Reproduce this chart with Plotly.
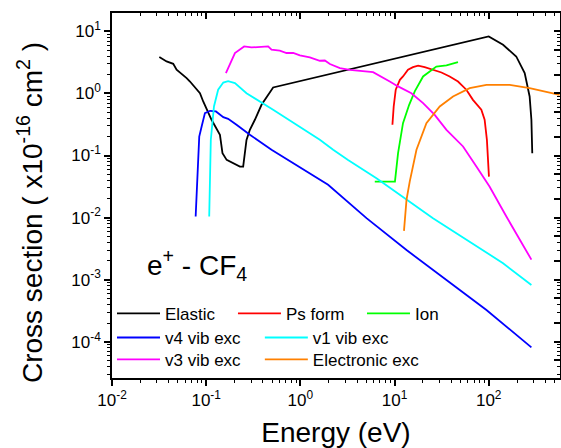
import plotly.graph_objects as go

# ---------------- data ----------------
elastic_E = [0.0318, 0.038, 0.0447, 0.0485, 0.062, 0.0673, 0.0859, 0.093, 0.114, 0.14, 0.149,
             0.165, 0.228, 0.247, 0.268, 0.291, 0.329, 0.387, 0.514, 100, 142, 196, 241, 272, 284, 290]
elastic_S = [3.86, 3.28, 3.01, 2.41, 1.77, 1.56, 1.01, 0.743, 0.377, 0.216, 0.109,
             0.085, 0.0665, 0.0665, 0.179, 0.26, 0.377, 0.657, 1.25, 8.3, 6.1, 3.95, 2.13, 0.896, 0.377, 0.109]

ps_E = [9.5, 9.8, 10.3, 11.4, 12.3, 13.9, 15.7, 17.8, 20.9, 25.6, 31.5, 38.5, 47.2, 57.9, 68, 83.5, 90.5, 95.7, 100.6]
ps_S = [0.313, 0.617, 1.15, 1.66, 1.88, 2.41, 2.66, 2.8, 2.66, 2.41, 2.18, 1.88, 1.56, 1.15, 0.79, 0.546, 0.377, 0.179, 0.0458]

ion_E = [6.17, 10.1, 10.9, 12.3, 14.3, 16.4, 20.1, 23.7, 27.8, 35.6, 47.2]
ion_S = [0.038, 0.038, 0.109, 0.333, 0.657, 1.08, 1.88, 2.26, 2.72, 2.83, 3.21]

v4_E = [0.0773, 0.0804, 0.0844, 0.0895, 0.097, 0.11, 0.127, 0.152, 0.171, 0.21, 0.291, 0.494,
        1.97, 5.04, 13.4, 35.6, 94.6, 284]
v4_S = [0.0104, 0.052, 0.202, 0.294, 0.483, 0.526, 0.513, 0.416, 0.391, 0.313, 0.216, 0.124,
        0.0337, 0.0098, 0.003, 9.9e-4, 3.24e-4, 8.1e-5]

v1_E = [0.1077, 0.1096, 0.112, 0.121, 0.134, 0.152, 0.171, 0.202, 0.268, 0.514, 1.61, 2.23, 3.21,
        6.43, 25.6, 142, 284]
v1_S = [0.0104, 0.052, 0.179, 0.617, 1.15, 1.5, 1.58, 1.47, 1.01, 0.546, 0.179, 0.124, 0.085,
        0.043, 0.0098, 0.00184, 8.2e-4]

v3_E = [0.162, 0.202, 0.253, 0.303, 0.455, 0.494, 0.605, 0.713, 0.84, 0.989, 1.26, 1.61, 1.82, 2.06,
        2.63, 3.35, 5.92, 7.26, 8.9, 10.9, 15.1, 20.1, 26.7, 35.6, 53.4, 74, 102, 154, 284]
v3_S = [2.13, 4.49, 5.73, 5.52, 5.73, 5.07, 4.89, 4.49, 4.49, 4.1, 3.81, 3.37, 3.4, 2.98,
        2.57, 2.41, 2.21, 1.88, 1.56, 1.3, 1.01, 0.7, 0.453, 0.26, 0.14, 0.0665, 0.0316, 0.0104, 0.0021]

elec_E = [12.6, 13.4, 14.5, 17.1, 21.8, 30.2, 41.8, 62.8, 94.6, 167, 272, 566]
elec_S = [0.0061, 0.0193, 0.038, 0.124, 0.333, 0.617, 0.896, 1.22, 1.38, 1.38, 1.22, 0.95]

x_tickvals = [0.01, 0.1, 1, 10, 100]
x_ticktext = ["10<sup>-2</sup>", "10<sup>-1</sup>", "10<sup>0</sup>", "10<sup>1</sup>", "10<sup>2</sup>"]
y_tickvals = [1e-4, 1e-3, 1e-2, 1e-1, 1, 10]
y_ticktext = ["10<sup>-4</sup>", "10<sup>-3</sup>", "10<sup>-2</sup>", "10<sup>-1</sup>", "10<sup>0</sup>", "10<sup>1</sup>"]

FONT = "Liberation Sans, Arial, sans-serif"
LW = 1.8

series = [
    ("Elastic", elastic_E, elastic_S, "#000000", "legend"),
    ("Ps form", ps_E, ps_S, "#FF0000", "legend2"),
    ("Ion", ion_E, ion_S, "#00FF00", "legend3"),
    ("v4 vib exc", v4_E, v4_S, "#0000FF", "legend4"),
    ("v1 vib exc", v1_E, v1_S, "#00FFFF", "legend5"),
    ("v3 vib exc", v3_E, v3_S, "#FF00FF", "legend6"),
    ("Electronic exc", elec_E, elec_S, "#FF8000", "legend7"),
]

fig = go.Figure()
for name, xs, ys, col, lg in series:
    fig.add_trace(go.Scatter(x=xs, y=ys, mode="lines", name=name, showlegend=True,
                             line=dict(color=col, width=LW), legend=lg))

# empty trace to activate mirrored (top/right) axes
fig.add_trace(go.Scatter(x=[], y=[], xaxis="x2", yaxis="y2", showlegend=False))

xr = [-2, 2.757]
yr = [-4.585, 1.297]

common = dict(type="log", showgrid=False, zeroline=False, showline=True, automargin=False,
              linecolor="black", linewidth=1.5, tickcolor="black", tickwidth=1.5, ticklen=6)


def leg(x, y):
    return dict(x=x, y=y, xanchor="left", yanchor="top", bgcolor="rgba(0,0,0,0)",
                font=dict(size=17), itemwidth=43, visible=True)


col1, col2a, col2b, col3 = 0.0, 0.270, 0.330, 0.558
row1, row2, row3 = 0.225, 0.159, 0.099

fig.update_layout(
    width=561, height=448,
    showlegend=True,
    margin=dict(l=112, r=1, t=13, b=70),
    paper_bgcolor="white", plot_bgcolor="white",
    font=dict(family=FONT, size=17, color="black"),
    xaxis=dict(**common, range=xr, ticks="outside", tickvals=x_tickvals, ticktext=x_ticktext,
               tickfont=dict(size=17),
               minor=dict(ticks="outside", ticklen=3, tickwidth=1.2, tickcolor="black", dtick="D1"),
               title=dict(text="Energy (eV)", font=dict(size=28), standoff=23)),
    yaxis=dict(**common, range=yr, ticks="outside", tickvals=y_tickvals, ticktext=y_ticktext,
               tickfont=dict(size=17),
               minor=dict(ticks="outside", ticklen=3, tickwidth=1.2, tickcolor="black", dtick="D1")),
    xaxis2=dict(**common, range=xr, overlaying="x", side="top", ticks="inside", showticklabels=False,
                minor=dict(ticks="inside", ticklen=3, tickwidth=1.2, tickcolor="black", dtick="D1")),
    yaxis2=dict(**common, range=yr, overlaying="y", side="right", ticks="inside", showticklabels=False,
                minor=dict(ticks="inside", ticklen=3, tickwidth=1.2, tickcolor="black", dtick="D1")),
    legend=leg(col1, row1),
    legend2=leg(col2a, row1),
    legend3=leg(col3, row1),
    legend4=leg(col1, row2),
    legend5=leg(col2b, row2),
    legend6=leg(col1, row3),
    legend7=leg(col2b, row3),
    annotations=[
        dict(text="e<sup>+</sup> - CF<sub>4</sub>", xref="paper", yref="paper",
             x=0.19, y=0.31, xanchor="center", yanchor="middle", showarrow=False,
             font=dict(size=28)),
        dict(text="Cross section ( x10<sup>-16</sup> cm<sup>2</sup> )", xref="paper", yref="paper",
             x=-0.183, y=0.452, xanchor="center", yanchor="middle", showarrow=False,
             textangle=-90, font=dict(size=28)),
    ],
)

fig.write_html("out.html", config={"displayModeBar": False},
               post_script="document.body.style.margin='0px';")
